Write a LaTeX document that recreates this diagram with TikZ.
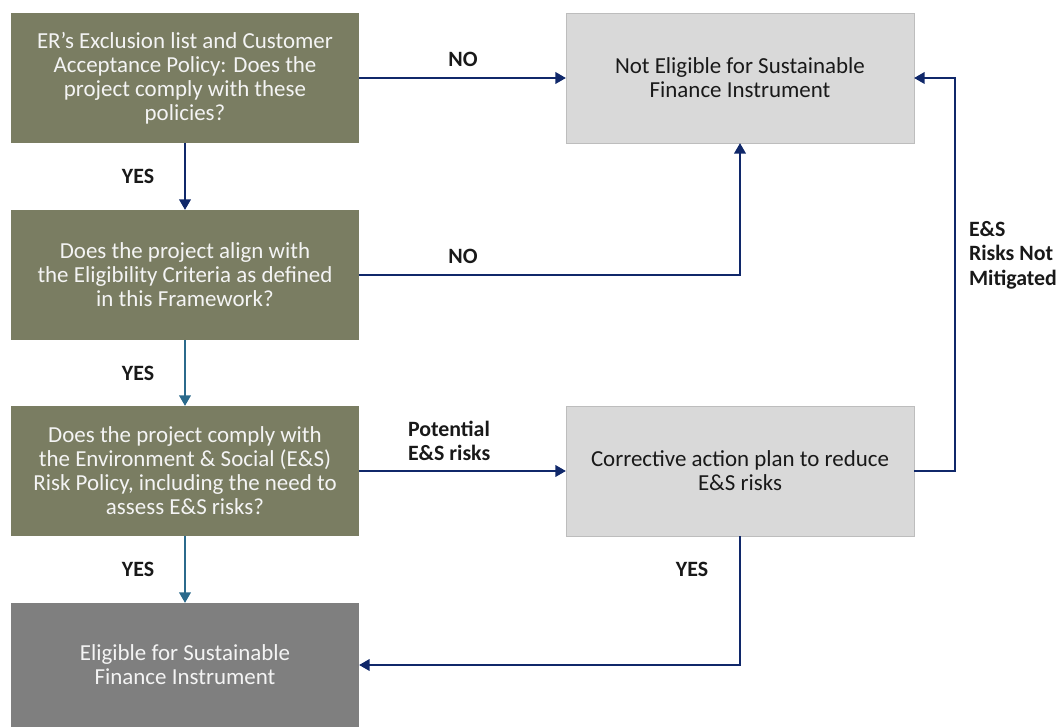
\documentclass[tikz,border=0pt]{standalone}
\usepackage{fontspec}
\setmainfont{Carlito}
\usetikzlibrary{arrows.meta,positioning}
\definecolor{olivebox}{HTML}{7A7D62}
\definecolor{darkbox}{HTML}{7F7F7F}
\definecolor{lightbox}{HTML}{D9D9D9}
\definecolor{lightrule}{HTML}{BDBDBD}
\definecolor{navy}{HTML}{10286A}
\definecolor{steel}{HTML}{2B6A8C}
\definecolor{paper}{HTML}{F4F4F4}

\begin{document}
\begin{tikzpicture}[x=0.75pt,y=-0.75pt,
  every node/.style={inner sep=0pt,outer sep=0pt},
  checkbox/.style={fill=olivebox,text=paper,align=center,anchor=north west,
    minimum width=261pt,minimum height=97.5pt,font=\fontsize{17.2}{18}\selectfont},
  outbox/.style={fill=lightbox,draw=lightrule,line width=0.6pt,text=black!90,align=center,
    anchor=north west,minimum width=261pt,minimum height=97.5pt,font=\fontsize{17.2}{18}\selectfont},
  tag/.style={font=\fontsize{16.4}{18.5}\selectfont\bfseries,text=black!90},
  flow/.style={draw=navy,line width=2.1pt,-{Triangle[length=8pt,width=8.5pt]}},
  flowtwo/.style={flow,draw=steel}]
  \useasboundingbox (0,0) rectangle (1064,727);

  \node[checkbox] (exclusion) at (11,13) {ER’s Exclusion list and Customer\\Acceptance Policy: Does the\\project comply with these\\policies?};
  \node[checkbox] (criteria) at (11,210) {Does the project align with\\the Eligibility Criteria as defined\\in this Framework?};
  \node[checkbox] (riskpolicy) at (11,406) {Does the project comply with\\the Environment \& Social (E\&S)\\Risk Policy, including the need to\\assess E\&S risks?};
  \node[checkbox,fill=darkbox,minimum height=93pt] (eligible) at (11,603) {Eligible for Sustainable\\Finance Instrument};

  \node[outbox] (noteligible) at (566,13) {Not Eligible for Sustainable\\Finance Instrument};
  \node[outbox] (corrective) at (566,406) {Corrective action plan to reduce\\E\&S risks};

  \coordinate (loopright) at (955,471);

  \draw[flow] (exclusion.east) -- (noteligible.west);
  \draw[flow] (exclusion.south) -- (criteria.north);
  \draw[flow] (criteria.east) -| (noteligible.south);
  \draw[flowtwo] (criteria.south) -- (riskpolicy.north);
  \draw[flow] (riskpolicy.east) -- (corrective.west);
  \draw[flowtwo] (riskpolicy.south) -- (eligible.north);
  \draw[flow] (corrective.east) -- (loopright) |- (noteligible.east);
  \draw[flow] (corrective.south) |- (eligible.east);

  \node[tag] (noone) at (463,59) {NO};
  \node[tag] (notwo) at (463,256) {NO};
  \node[tag] (yesone) at (138,176) {YES};
  \node[tag] (yestwo) at (138,373) {YES};
  \node[tag] (yesthree) at (138,569) {YES};
  \node[tag] (yesfour) at (692,569) {YES};
  \node[tag,align=left,anchor=west] (potential) at (408,441) {Potential\\E\&S risks};
  \node[tag,align=left,anchor=west] (notmitigated) at (969,255) {E\&S\\Risks Not\\Mitigated};
\end{tikzpicture}
\end{document}
